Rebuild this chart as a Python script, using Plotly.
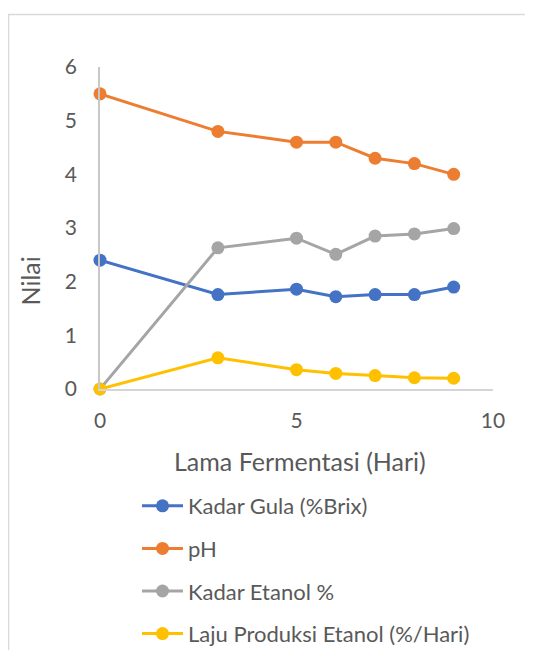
import plotly.graph_objects as go

days = [0, 3, 5, 6, 7, 8, 9]
kadar_gula = [2.4, 1.76, 1.86, 1.72, 1.76, 1.76, 1.9]
ph = [5.5, 4.8, 4.6, 4.6, 4.3, 4.2, 4.0]
kadar_etanol = [0.0, 2.63, 2.81, 2.51, 2.85, 2.89, 2.99]
laju_produksi = [0.0, 0.58, 0.36, 0.29, 0.25, 0.21, 0.2]

series_names = ["Kadar Gula (%Brix)", "pH", "Kadar Etanol %", "Laju Produksi Etanol (%/Hari)"]
series_values = [kadar_gula, ph, kadar_etanol, laju_produksi]
colors = ["#4472C4", "#ED7D31", "#A5A5A5", "#FFC000"]

FONT = "Lato, Carlito, Calibri, sans-serif"
TXT = "#595959"

OFF = 8  # page body margin
W, H = 525, 700
L, T = 100 - OFF, 67 - OFF
PW, PH = 393, 322
R = W - L - PW
B = H - T - PH

def px(page_x):
    return (page_x - OFF - L) / PW

def py(page_y):
    return (T + PH - (page_y - OFF)) / PH

fig = go.Figure()
for i, (name, vals, c) in enumerate(zip(series_names, series_values, colors)):
    fig.add_trace(go.Scatter(
        x=days, y=vals, name=name, mode="lines+markers",
        line=dict(color=c, width=3),
        marker=dict(color=c, size=13),
        cliponaxis=False,
        legendgroup=f"g{i}",
    ))

fig.update_layout(
    width=W, height=H,
    margin=dict(l=L, r=R, t=T, b=B),
    paper_bgcolor="white", plot_bgcolor="white",
    font=dict(family=FONT, size=21, color=TXT),
    xaxis=dict(range=[0, 10], tickvals=[0, 5, 10], showgrid=False, zeroline=False,
               showline=True, linecolor="#D5D5D5", linewidth=1.5,
               ticks="", ticklabelstandoff=12, tickfont=dict(size=21, color=TXT)),
    yaxis=dict(range=[0, 6], tickvals=[0, 1, 2, 3, 4, 5, 6], showgrid=False, zeroline=False,
               showline=True, linecolor="#C8C8C8", linewidth=1.5,
               ticks="", ticklabelstandoff=17, tickfont=dict(size=21, color=TXT)),
    showlegend=True,
    legend=dict(x=px(137), xanchor="left", y=py(485), yanchor="top",
                orientation="v", itemwidth=41, tracegroupgap=11,
                font=dict(size=22, color=TXT), bgcolor="rgba(0,0,0,0)",
                borderwidth=0),
    annotations=[
        dict(text="Lama Fermentasi (Hari)", xref="paper", yref="paper",
             x=px(300), y=py(461), xanchor="center", yanchor="middle",
             showarrow=False, font=dict(size=25, color=TXT)),
        dict(text="Nilai", xref="paper", yref="paper",
             x=px(29.5), y=py(281), xanchor="center", yanchor="middle",
             textangle=-90, showarrow=False, font=dict(size=25, color=TXT)),
    ],
    shapes=[
        dict(type="rect", xref="paper", yref="paper",
             x0=px(8.5), x1=px(800), y0=py(14.5), y1=py(1000),
             line=dict(color="#D9D9D9", width=1.5), fillcolor="rgba(0,0,0,0)",
             layer="below"),
    ],
)

fig.write_html("out.html")
